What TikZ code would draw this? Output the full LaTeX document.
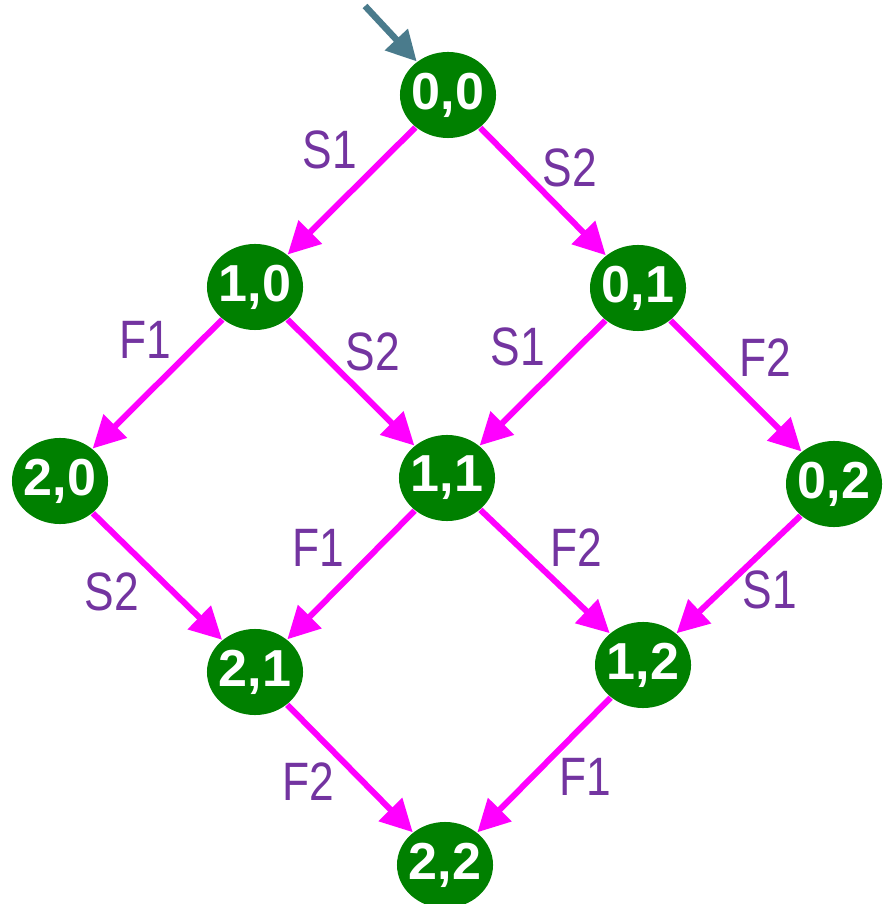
\documentclass[tikz,border=0pt]{standalone}
\usepackage{fontspec}
\usepackage{graphicx}
\setmainfont{Liberation Sans}
\usetikzlibrary{arrows.meta,shapes.geometric}
\definecolor{stgreen}{HTML}{008000}
\definecolor{trmag}{HTML}{FF00FF}
\definecolor{lblpurple}{HTML}{7334A0}
\definecolor{startteal}{HTML}{4A7B8C}
\newcommand{\talltxt}[1]{\scalebox{1}[1.22]{#1}}

\begin{document}
\begin{tikzpicture}[>={Triangle[length=0.32cm,width=0.32cm]},x=0.01cm,y=-0.01cm,
  st/.style={ellipse,fill=stgreen,text=white,inner sep=-0.08cm,
    minimum width=0.96cm,minimum height=0.86cm,
    font=\fontsize{14.8}{17}\selectfont\bfseries},
  tr/.style={->,draw=trmag,line width=0.06cm},
  lbl/.style={text=lblpurple,inner sep=0pt,font=\fontsize{12.6}{15}\selectfont}]
  \useasboundingbox (0,0) rectangle (888,904);
  % states
  \node[st] (n00) at (448,95)  {0,0};
  \node[st] (n10) at (255,287) {1,0};
  \node[st] (n01) at (638,288) {0,1};
  \node[st] (n20) at (60,481)  {2,0};
  \node[st] (n11) at (447,478) {1,1};
  \node[st] (n02) at (834,484) {0,2};
  \node[st] (n21) at (255,672) {2,1};
  \node[st] (n12) at (643,665) {1,2};
  \node[st] (n22) at (445,865) {2,2};
  % initial arrow
  \coordinate (init) at (365,6);
  \draw[-{Triangle[length=0.3cm,width=0.3cm]},draw=startteal,line width=0.065cm] (init) -- (n00);
  % transitions
  \draw[tr] (n00) -- (n10);
  \draw[tr] (n00) -- (n01);
  \draw[tr] (n10) -- (n20);
  \draw[tr] (n10) -- (n11);
  \draw[tr] (n01) -- (n11);
  \draw[tr] (n01) -- (n02);
  \draw[tr] (n20) -- (n21);
  \draw[tr] (n11) -- (n21);
  \draw[tr] (n11) -- (n12);
  \draw[tr] (n02) -- (n12);
  \draw[tr] (n21) -- (n22);
  \draw[tr] (n12) -- (n22);
  % labels
  \node[lbl] (l1)  at (330,150) {\talltxt{S1}};
  \node[lbl] (l2)  at (570,168) {\talltxt{S2}};
  \node[lbl] (l3)  at (145,340) {\talltxt{F1}};
  \node[lbl] (l4)  at (373,352) {\talltxt{S2}};
  \node[lbl] (l5)  at (518,347) {\talltxt{S1}};
  \node[lbl] (l6)  at (765,358) {\talltxt{F2}};
  \node[lbl] (l7)  at (112,592) {\talltxt{S2}};
  \node[lbl] (l8)  at (318,548) {\talltxt{F1}};
  \node[lbl] (l9)  at (576,548) {\talltxt{F2}};
  \node[lbl] (l10) at (770,590) {\talltxt{S1}};
  \node[lbl] (l11) at (308,782) {\talltxt{F2}};
  \node[lbl] (l12) at (585,777) {\talltxt{F1}};
\end{tikzpicture}
\end{document}
